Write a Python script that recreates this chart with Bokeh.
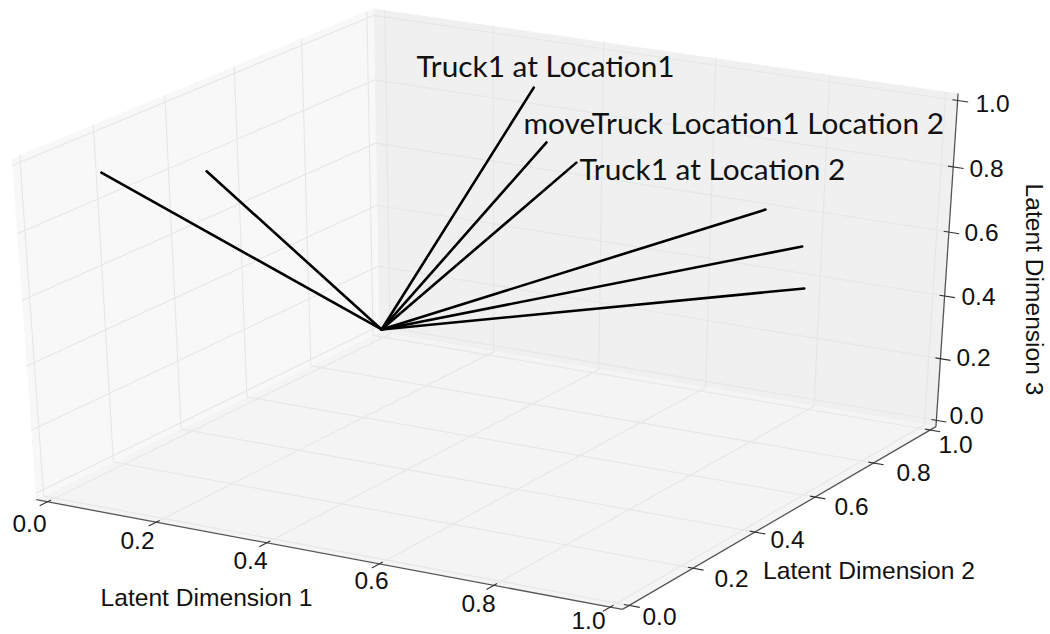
import numpy as np
from bokeh.plotting import figure
from bokeh.models import Range1d
from bokeh.core.properties import value
from bokeh.embed import file_html
from bokeh.resources import INLINE

W, H = 1050, 634
tick_values = [0.0, 0.2, 0.4, 0.6, 0.8, 1.0]
tick_labels = ["0.0", "0.2", "0.4", "0.6", "0.8", "1.0"]
axis_names = ["Latent Dimension 1", "Latent Dimension 2", "Latent Dimension 3"]

# vectors, in latent coordinates, all from one common start
start = [-0.004, 1.0, 0.004]
end_dim1 = [0.000, 0.000, 0.286, 0.310, 0.365, 0.708, 0.776, 0.783]
end_dim2 = [0.183, 0.476, 1.000, 1.000, 1.000, 1.000, 1.000, 1.000]
end_dim3 = [0.892, 0.763, 0.862, 0.698, 0.649, 0.594, 0.497, 0.366]
annotations = ["Truck1 at Location1", "moveTruck Location1 Location 2", "Truck1 at Location 2"]

# ---- camera: fitted from where the cube corners lie on the page
LO, HI = -1/48, 1+1/48
corner_3d = np.array([[LO,LO,LO],[HI,LO,LO],[HI,HI,LO],[LO,HI,LO],[LO,LO,HI],[LO,HI,HI],[HI,HI,HI]], float)
corner_px = np.array([[35,499],[622,609],[935,426],[380,332],[12,158],[372,8],[958,93]], float)
A = []
for (X,Y,Z),(u,v) in zip(corner_3d, corner_px/1000):
    A.append([X,Y,Z,1,0,0,0,0,-u*X,-u*Y,-u*Z,-u])
    A.append([0,0,0,0,X,Y,Z,1,-v*X,-v*Y,-v*Z,-v])
P = np.linalg.svd(np.array(A))[2][-1].reshape(3,4)

def proj(pts):
    pts = np.atleast_2d(np.array(pts, float))
    h = P @ np.c_[pts, np.ones(len(pts))].T
    return h[0]/h[2]*1000, h[1]/h[2]*1000

p = figure(width=W, height=H, x_range=Range1d(0,W), y_range=Range1d(H,0), output_backend="svg",
           toolbar_location=None, min_border=0)
p.axis.visible = False
p.grid.visible = False
p.outline_line_color = None

def pane(c, col):
    x, y = proj(c)
    p.patch(x, y, fill_color=col, line_color=None)

pane([[LO,LO,LO],[LO,HI,LO],[LO,HI,HI],[LO,LO,HI]], "#f8f8f8")
pane([[LO,HI,LO],[HI,HI,LO],[HI,HI,HI],[LO,HI,HI]], "#f0f0f0")
pane([[LO,LO,LO],[HI,LO,LO],[HI,HI,LO],[LO,HI,LO]], "#f4f4f4")

def seg(pts, **k):
    x, y = proj(pts)
    p.line(x, y, **k)

G = dict(line_color="#e6e6e6", line_width=1.1)
for t in tick_values:
    seg([[t,LO,LO],[t,HI,LO],[t,HI,HI]], **G)
    seg([[HI,t,LO],[LO,t,LO],[LO,t,HI]], **G)
    seg([[LO,LO,t],[LO,HI,t],[HI,HI,t]], **G)

AX = dict(line_color="#555555", line_width=1.3)
seg([[LO,LO,LO],[HI,LO,LO]], **AX)
seg([[HI,LO,LO],[HI,HI,LO]], **AX)
seg([[HI,HI,LO],[HI,HI,HI]], **AX)
T = dict(line_color="#333333", line_width=1.1)
for t in tick_values:
    seg([[t,LO-.022,LO],[t,LO+.01,LO]], **T)
    seg([[HI-.009,t,LO],[HI+.018,t,LO]], **T)
    seg([[HI-.009,HI,t],[HI+.018,HI,t]], **T)

for e in zip(end_dim1, end_dim2, end_dim3):
    seg([start, list(e)], line_color="black", line_width=2.6, line_cap="round")

# ---- texts
SANS = value("Liberation Sans")
def labels(xs, ys, txt, size="24.5px", font=SANS, align="center", base="middle", angle=0):
    p.text(xs, ys, text=txt, text_font=font, text_font_size=size, text_color="#111111",
           text_align=align, text_baseline=base, angle=angle)

labels([29,137,250,371,478,588], [523,540,560,580,603,620], tick_labels)
labels([659,731,787,851,913,955], [616,578,539,506,472,444], tick_labels)
labels([966,973,978,981,986,992], [415,357,296,232,168,103], tick_labels)
labels([206], [597], axis_names[:1], size="24.6px")
labels([868.5], [570], axis_names[1:2], size="24.6px")
labels([1034], [289], axis_names[2:], size="24.6px", angle=-np.pi/2)
labels([416,523,579], [65,122,168], annotations, size="29.8px", font=value("Lato"), align="left", base="alphabetic")

open("out.html","w").write(file_html(p, INLINE))
